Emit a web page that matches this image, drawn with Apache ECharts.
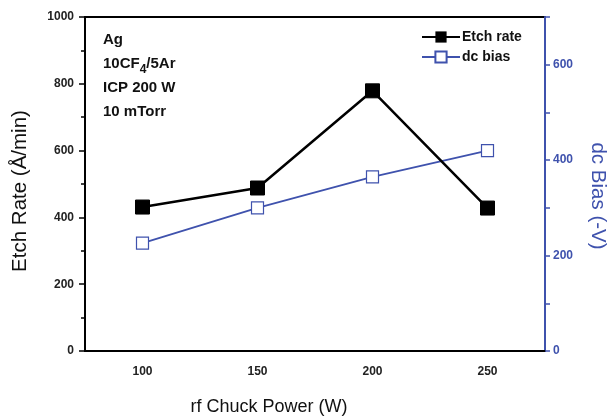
<!DOCTYPE html>
<html>
<head>
<meta charset="utf-8">
<script src="https://cdn.jsdelivr.net/npm/echarts@6/dist/echarts.min.js"></script>
<style>
	html, body { margin: 0; padding: 0; background: #fff; }
	#chart { width: 610px; height: 418px; }
</style>
</head>
<body>
<div id="chart"></div>
<script>
const powers = [100, 150, 200, 250]
const etchRate = [431, 488, 779, 428]
const dcBias = [226, 300, 365, 420]
const notes = ['Ag', '10CF{sub|4}/5Ar', 'ICP 200 W', '10 mTorr']

const BLUE = '#3f52ad'
const FONT = 'Liberation Sans, Arial, sans-serif'

const chart = echarts.init(document.getElementById('chart'))

function pairs(ys) {
	return powers.map((x, i) => [x, ys[i]])
}

const options = {
	animation: false,
	textStyle: { fontFamily: FONT },
	grid: {
		left: 85,
		right: 65,
		top: 17,
		bottom: 67,
		outerBoundsMode: 'none',
		containLabel: false,
		show: true,
		borderColor: '#000',
		borderWidth: 2
	},
	legend: {
		orient: 'vertical',
		left: 416,
		top: 25,
		itemWidth: 38,
		itemHeight: 14,
		itemGap: 6,
		textStyle: { fontSize: 14, fontWeight: 'bold', color: '#111', fontFamily: FONT, padding: [0, 0, 0, -3] },
		data: ['Etch rate', 'dc bias']
	},
	graphic: [
		{
			type: 'text',
			left: 103,
			top: 28,
			style: {
				text: notes.join('\n'),
				font: 'bold 15px ' + FONT,
				fill: '#111',
				lineHeight: 24,
				rich: {
					sub: { fontSize: 12, fontWeight: 'bold', verticalAlign: 'bottom', padding: [8, 0, 0, 0] }
				}
			}
		}
	],
	xAxis: {
		type: 'value',
		min: 75,
		max: 275,
		interval: 25,
		splitLine: { show: false },
		axisLine: { lineStyle: { color: '#000', width: 2 } },
		axisTick: { show: false },
		axisLabel: {
			margin: 15,
			fontSize: 12,
			fontWeight: 'bold',
			color: '#222',
			formatter: v => (powers.includes(v) ? String(v) : '')
		},
		name: 'rf Chuck Power (W)',
		nameLocation: 'middle',
		nameGap: 47,
		nameTextStyle: { fontSize: 18, color: '#111', padding: [0, 92, 0, 0] }
	},
	yAxis: [
		{
			type: 'value',
			min: 0,
			max: 1000,
			interval: 200,
			splitLine: { show: false },
			axisLine: { show: true, lineStyle: { color: '#000', width: 2 } },
			axisTick: { length: 6, lineStyle: { width: 1.5 } },
			minorTick: { show: true, splitNumber: 2, length: 4, lineStyle: { color: '#000', width: 1.5 } },
			axisLabel: { fontSize: 12, fontWeight: 'bold', color: '#222', margin: 11, formatter: v => String(v) },
			name: 'Etch Rate (Å/min)',
			nameLocation: 'middle',
			nameGap: 54,
			nameTextStyle: { fontSize: 20.5, color: '#111', padding: [0, 14, 0, 0] }
		},
		{
			type: 'value',
			position: 'right',
			min: 0,
			max: 700,
			interval: 100,
			splitLine: { show: false },
			axisLine: { show: true, lineStyle: { color: BLUE, width: 2 } },
			axisTick: {
				length: 5,
				lineStyle: { color: BLUE, width: 1.5 },
				interval: i => i !== 7
			},
			axisLabel: {
				fontSize: 12,
				fontWeight: 'bold',
				color: BLUE,
				margin: 8,
				formatter: v => (v % 200 === 0 ? String(v) : '')
			},
			name: 'dc Bias (-V)',
			nameLocation: 'middle',
			nameGap: 42,
			nameRotate: -90,
			nameTextStyle: { fontSize: 20.5, color: BLUE, padding: [0, 0, 0, 24] }
		}
	],
	series: [
		{
			name: 'Etch rate',
			type: 'line',
			yAxisIndex: 0,
			data: pairs(etchRate),
			symbol: 'rect',
			symbolSize: 14,
			lineStyle: { color: '#000', width: 2.5 },
			itemStyle: { color: '#000', borderColor: '#000' },
			z: 3
		},
		{
			name: 'dc bias',
			type: 'line',
			yAxisIndex: 1,
			data: pairs(dcBias),
			symbol: 'rect',
			symbolSize: 12,
			showAllSymbol: true,
			lineStyle: { color: BLUE, width: 1.8 },
			itemStyle: { color: '#fff', borderColor: BLUE, borderWidth: 1.2 },
			z: 2
		}
	]
}

chart.setOption(options, true)
</script>
</body>
</html>
